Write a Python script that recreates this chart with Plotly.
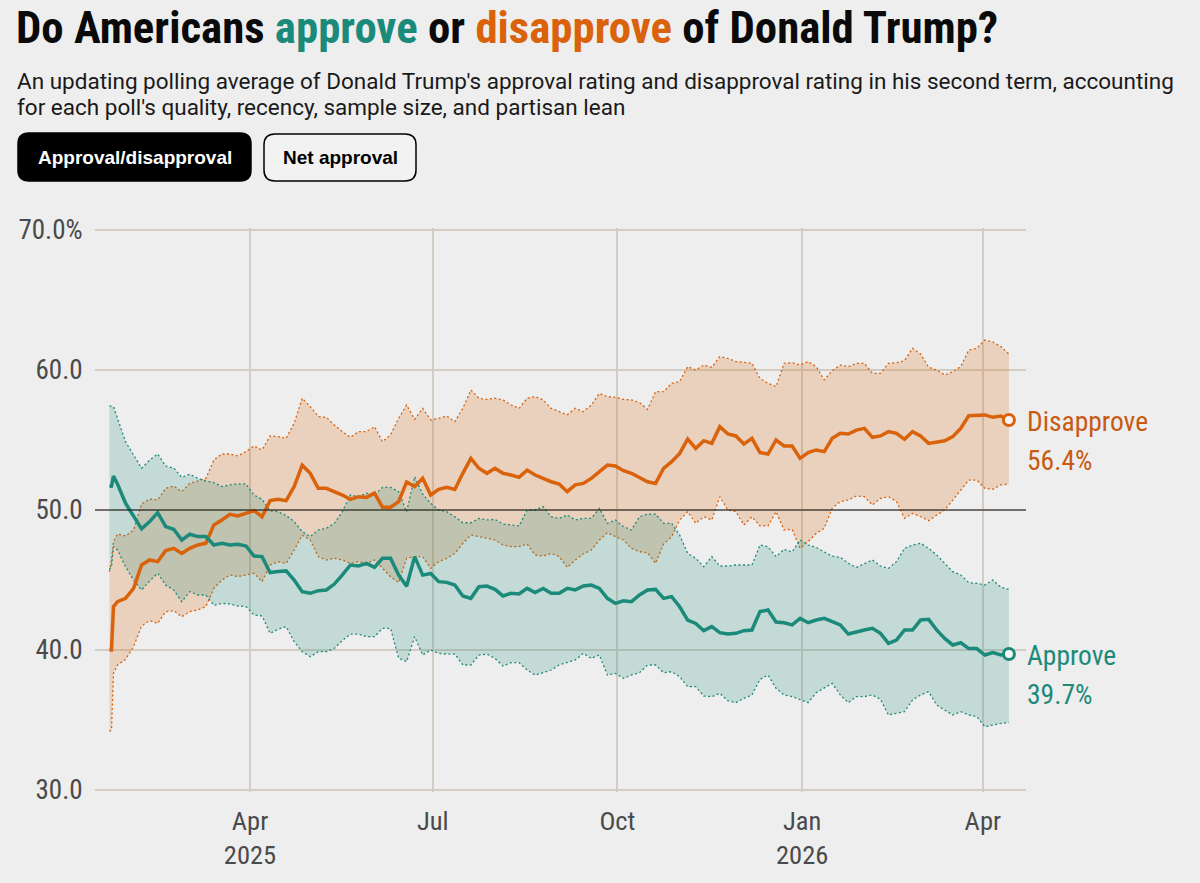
import pandas as pd
import plotly.graph_objects as go

BG = "#EEEEEE"
TEAL = "#1B8A7A"
ORANGE = "#D9620A"
GRID = "#D3CCC3"
AXIS_TEXT = "#4A4A4A"
NARROW = "Roboto Condensed"

# first days after the inauguration, then one reading every 4 days
dates = ["2025-01-21", "2025-01-22", "2025-01-23"] + list(pd.date_range("2025-01-25", "2026-04-14", freq="4D"))

approve = [
    51.67, 51.7, 52.43, 51.86, 50.48, 49.52, 48.65, 49.17, 49.81, 48.81, 48.62, 47.86, 48.27, 48.1,
    48.1, 47.5, 47.62, 47.5, 47.55, 47.43, 46.71, 46.67, 45.53, 45.6, 45.65, 45.0, 44.17, 44.05,
    44.24, 44.29, 44.71, 45.36, 46.07, 46.0, 46.19, 45.9, 46.55, 46.55, 45.36, 44.55, 46.67,
    45.35, 45.47, 44.88, 44.83, 44.64, 43.86, 43.69, 44.52, 44.57, 44.33, 43.86, 44.05, 44.0, 44.4,
    44.1, 44.4, 44.05, 44.05, 44.4, 44.29, 44.57, 44.64, 44.4, 43.69, 43.33, 43.52, 43.45, 43.93,
    44.29, 44.33, 43.69, 43.81, 43.09, 42.14, 41.9, 41.38, 41.67, 41.24, 41.14, 41.19, 41.38,
    41.43, 42.74, 42.86, 42.0, 41.95, 41.79, 42.26, 41.95, 42.14, 42.26, 42.0, 41.79, 41.14, 41.31,
    41.43, 41.55, 41.19, 40.48, 40.71, 41.43, 41.43, 42.14, 42.19, 41.43, 40.83, 40.36, 40.52, 40.1,
    40.1, 39.64, 39.81, 39.64, 39.71,
]
approve_hi = [
    57.43, 57.43, 57.38, 56.55, 54.88, 53.93, 52.98, 53.57, 54.0, 53.14, 53.0, 52.33, 52.55, 52.26,
    52.07, 51.95, 51.67, 51.79, 51.86, 51.86, 51.07, 50.76, 49.93, 49.88, 49.6, 49.17, 48.45, 48.1,
    48.57, 48.69, 49.05, 49.88, 51.07, 50.95, 51.2, 51.07, 51.62, 51.62, 51.31, 49.88, 52.38,
    51.14, 50.47, 50.0, 49.88, 49.52, 49.09, 49.09, 49.4, 49.29, 49.33, 49.0, 48.93, 48.86, 50.0,
    50.0, 50.24, 49.52, 49.4, 49.64, 49.29, 49.4, 49.4, 50.12, 49.05, 49.29, 48.81, 48.57, 49.52,
    49.71, 49.71, 49.05, 49.05, 48.21, 46.9, 46.55, 45.95, 46.67, 46.0, 46.0, 46.07, 46.07,
    46.07, 47.5, 47.38, 46.67, 47.19, 47.0, 47.86, 47.5, 47.33, 47.0, 46.71, 46.62, 46.19, 45.9,
    46.19, 46.43, 46.0, 45.83, 46.31, 47.26, 47.5, 47.62, 47.26, 46.79, 46.19, 45.6, 45.36, 44.81,
    44.76, 44.64, 45.0, 44.48, 44.33,
]
approve_lo = [
    45.76, 45.95, 47.38, 47.15, 45.95, 45.0, 44.29, 44.93, 45.48, 44.64, 44.29, 43.45, 44.17, 43.93,
    43.93, 43.2, 43.33, 43.29, 43.14, 43.1, 42.5, 42.43, 41.19, 41.48, 41.67, 40.6, 39.88, 39.52,
    39.88, 39.88, 40.12, 40.67, 41.14, 41.14, 40.95, 40.95, 41.55, 41.55, 39.43, 39.17, 40.95,
    39.64, 40.0, 39.76, 39.71, 39.71, 38.93, 38.93, 39.64, 39.71, 39.4, 38.86, 39.1, 39.1, 38.57,
    38.21, 38.38, 38.57, 38.93, 39.1, 39.29, 39.76, 39.4, 39.64, 38.21, 38.33, 37.98, 38.21, 38.38,
    38.93, 38.93, 38.38, 38.45, 38.09, 37.38, 37.38, 36.71, 36.67, 36.9, 36.38, 36.24, 36.55,
    36.79, 37.9, 38.21, 37.26, 36.79, 36.67, 36.48, 36.24, 36.95, 37.26, 37.62, 36.79, 36.24, 36.67,
    36.67, 36.79, 36.48, 35.36, 35.48, 35.6, 36.43, 36.79, 37.02, 36.07, 35.71, 35.36, 35.6, 35.36,
    35.24, 34.52, 34.64, 34.76, 34.81,
]
disapprove = [
    40.0, 40.0, 43.1, 43.45, 43.69, 44.4, 46.07, 46.43, 46.31, 47.1, 47.26, 46.9, 47.26, 47.5,
    47.62, 48.93, 49.29, 49.69, 49.57, 49.76, 49.95, 49.52, 50.67, 50.76, 50.67, 51.67, 53.2, 52.62,
    51.55, 51.55, 51.31, 51.07, 50.76, 50.95, 50.9, 51.2, 50.2, 50.2, 50.6, 52.0, 51.67,
    52.26, 51.07, 51.47, 51.62, 51.47, 52.62, 53.69, 52.98, 52.62, 52.98, 52.62, 52.5, 52.33, 52.85,
    52.5, 52.26, 52.02, 51.86, 51.31, 51.8, 51.9, 52.26, 52.74, 53.21, 53.14, 52.81, 52.62, 52.33,
    52.02, 51.9, 52.98, 53.45, 54.04, 55.07, 54.4, 54.95, 54.76, 55.95, 55.43, 55.29, 54.71,
    55.12, 54.1, 54.0, 55.0, 54.57, 54.57, 53.69, 54.1, 54.29, 54.17, 55.12, 55.48, 55.43, 55.71,
    55.83, 55.19, 55.29, 55.6, 55.48, 55.05, 55.6, 55.29, 54.76, 54.88, 54.95, 55.24, 55.83, 56.74,
    56.74, 56.79, 56.62, 56.71, 56.43,
]
disapprove_hi = [
    45.6, 46.43, 47.74, 48.29, 48.14, 48.57, 50.43, 50.79, 50.71, 51.55, 51.71, 51.31, 51.9, 52.07,
    52.26, 53.57, 54.0, 54.0, 53.86, 54.17, 54.57, 54.29, 55.29, 55.24, 55.12, 56.19, 57.98, 57.38,
    56.67, 56.62, 56.07, 55.6, 55.19, 55.6, 55.6, 55.95, 54.88, 55.36, 56.55, 57.5, 56.48,
    57.26, 56.43, 56.55, 56.71, 56.31, 57.26, 58.57, 57.98, 57.9, 57.98, 57.86, 57.5, 57.26, 57.98,
    58.1, 57.86, 57.26, 57.02, 56.8, 57.26, 57.02, 57.5, 58.33, 58.1, 58.05, 57.9, 57.86, 57.67,
    57.19, 58.45, 58.45, 59.05, 59.17, 60.24, 60.0, 60.35, 60.19, 60.95, 60.83, 60.6, 60.52,
    60.48, 59.4, 59.05, 58.81, 60.48, 60.52, 60.36, 60.6, 60.24, 59.29, 59.95, 60.36, 60.24, 60.48,
    60.48, 59.76, 59.76, 60.48, 60.52, 60.67, 61.55, 61.14, 60.19, 60.0, 59.64, 59.88, 60.24, 61.43,
    61.55, 62.14, 62.0, 61.67, 61.14,
]
disapprove_lo = [
    34.17, 34.29, 38.33, 38.93, 39.33, 40.24, 41.71, 42.1, 41.9, 42.74, 42.81, 42.38, 42.74, 42.86,
    43.1, 44.4, 45.0, 45.36, 45.24, 45.36, 45.48, 44.88, 46.07, 46.31, 46.19, 47.14, 48.2, 47.86,
    46.67, 46.43, 46.55, 46.43, 46.19, 46.31, 46.19, 46.43, 45.83, 45.24, 44.81, 46.55, 46.67,
    46.67, 45.83, 46.31, 46.55, 46.9, 47.62, 48.21, 48.1, 47.98, 47.86, 47.5, 47.38, 47.38, 47.57,
    46.79, 46.71, 46.9, 46.67, 45.9, 46.43, 46.86, 47.14, 47.86, 48.38, 48.1, 47.86, 47.26, 47.02,
    46.95, 46.19, 47.57, 48.1, 49.29, 49.88, 49.05, 49.52, 49.29, 50.95, 50.0, 49.88, 48.93,
    49.52, 48.86, 48.86, 49.88, 48.57, 48.62, 47.26, 47.74, 48.33, 48.69, 50.13, 50.6, 50.71, 51.0,
    50.95, 50.36, 50.83, 50.95, 50.6, 49.41, 49.76, 49.52, 49.24, 49.64, 50.0, 50.71, 51.43, 52.14,
    52.14, 51.55, 51.48, 51.79, 51.86,
]
assert len(dates) == len(approve) == len(approve_hi) == len(approve_lo) == len(disapprove) == len(disapprove_hi) == len(disapprove_lo)

x_tickvals = ["2025-04-01", "2025-07-01", "2025-10-01", "2026-01-01", "2026-04-01"]
x_ticktext = ["Apr<br>2025", "Jul", "Oct", "Jan<br>2026", "Apr"]
y_tickvals = [30, 40, 50, 60, 70]
y_ticktext = ["30.0", "40.0", "50.0", "60.0", "70.0%"]

# plot area in page pixels, used for the text and buttons outside of it.
# 2px of slack at top and bottom, plotly drops gridlines that sit on the edge
L, R, T, B = 95, 1026, 228, 792
SLACK = 2 * 40 / 560


def px(x):
    return (x - L) / (R - L)


def py(y):
    return (B - y) / (B - T)


def button(x0, y0, x1, y1, r, fill, line):
    # rounded rectangle as an svg path in paper coords
    rx, ry = r / (R - L), r / (B - T)
    a, b, c, d = px(x0), px(x1), py(y1), py(y0)
    path = (f"M {a + rx} {c} L {b - rx} {c} Q {b} {c} {b} {c + ry} L {b} {d - ry} Q {b} {d} {b - rx} {d} "
            f"L {a + rx} {d} Q {a} {d} {a} {d - ry} L {a} {c + ry} Q {a} {c} {a + rx} {c} Z")
    return dict(type="path", xref="paper", yref="paper", path=path, fillcolor=fill,
                line=dict(color=line, width=1.5), layer="above")


def band(hi, lo, color, fill):
    fig.add_trace(go.Scatter(x=dates, y=hi, mode="lines", line=dict(color=color, width=1.3, dash="2px,2.5px"),
                             showlegend=False, hoverinfo="skip"))
    fig.add_trace(go.Scatter(x=dates, y=lo, mode="lines", line=dict(color=color, width=1.3, dash="2px,2.5px"),
                             fill="tonexty", fillcolor=fill, showlegend=False, hoverinfo="skip"))


fig = go.Figure()

band(disapprove_hi, disapprove_lo, ORANGE, "rgba(217,95,2,0.2)")
band(approve_hi, approve_lo, TEAL, "rgba(27,138,122,0.2)")

fig.add_trace(go.Scatter(x=dates, y=disapprove, name="Disapprove", mode="lines", line=dict(color=ORANGE, width=3.5), showlegend=False))
fig.add_trace(go.Scatter(x=dates, y=approve, name="Approve", mode="lines", line=dict(color=TEAL, width=3.5), showlegend=False))

# open circles on the latest values
fig.add_trace(go.Scatter(x=[dates[-1]], y=[disapprove[-1]], mode="markers", showlegend=False,
                         marker=dict(size=11, color="#F5F5F5", line=dict(color=ORANGE, width=3))))
fig.add_trace(go.Scatter(x=[dates[-1]], y=[approve[-1]], mode="markers", showlegend=False,
                         marker=dict(size=11, color="#F5F5F5", line=dict(color=TEAL, width=3))))

title = (f'<b>Do Americans <span style="color:{TEAL}">approve</span> or '
         f'<span style="color:{ORANGE}">disapprove</span> of Donald Trump?</b>')

annotations = [
    dict(x=px(15), y=py(81), text="An updating polling average of Donald Trump's approval rating and disapproval rating in his second term, accounting",
         xanchor="left", font=dict(family="Roboto", size=22.5, color="#1A1A1A")),
    dict(x=px(15), y=py(107), text="for each poll's quality, recency, sample size, and partisan lean",
         xanchor="left", font=dict(family="Roboto", size=22.5, color="#1A1A1A")),
    dict(x=px(134.5), y=py(157), text="<b>Approval/disapproval</b>", xanchor="center", font=dict(family="Liberation Sans", size=19, color="white")),
    dict(x=px(340), y=py(157), text="<b>Net approval</b>", xanchor="center", font=dict(family="Liberation Sans", size=19, color="black")),
    dict(x=px(1025), y=py(421), text="Disapprove", xanchor="left", font=dict(family=NARROW, size=27.5, color="#C85A12")),
    dict(x=px(1025), y=py(460), text=f"{disapprove[-1]:.1f}%", xanchor="left", font=dict(family=NARROW, size=27.5, color="#C85A12")),
    dict(x=px(1025), y=py(655), text="Approve", xanchor="left", font=dict(family=NARROW, size=27.5, color=TEAL)),
    dict(x=px(1025), y=py(694), text=f"{approve[-1]:.1f}%", xanchor="left", font=dict(family=NARROW, size=27.5, color=TEAL)),
]
for a in annotations:
    a.update(xref="paper", yref="paper", showarrow=False, yanchor="middle")

fig.update_layout(
    width=1200, height=883,
    paper_bgcolor=BG, plot_bgcolor=BG,
    margin=dict(l=L, r=1200 - R, t=T, b=883 - B),
    showlegend=False,
    title=dict(text=title, x=16 / 1200, xanchor="left", y=1 - 27 / 883, yanchor="middle",
               font=dict(family=NARROW, size=44.8, color="#0A0A0A")),
    annotations=annotations,
    shapes=[
        dict(type="line", xref="paper", yref="y", x0=0, x1=1, y0=50, y1=50, line=dict(color="#111111", width=1), layer="above"),
        button(18, 133, 251, 181, 11, "black", "black"),
        button(264, 134, 416, 181, 11, "#F2F2F2", "black"),
    ],
    xaxis=dict(range=["2025-01-13 19:00", "2026-04-22 12:00"], tickvals=x_tickvals, ticktext=x_ticktext,
               showgrid=True, gridcolor=GRID, gridwidth=1.5, zeroline=False, showline=False,
               ticks="outside", ticklen=5, tickcolor=BG,
               tickfont=dict(family=NARROW, size=26.5, color=AXIS_TEXT)),
    yaxis=dict(range=[30 - SLACK, 70 + SLACK], tickvals=y_tickvals, ticktext=y_ticktext,
               showgrid=True, gridcolor=GRID, gridwidth=2, zeroline=False, showline=False,
               ticks="outside", ticklen=6, tickcolor=BG,
               tickfont=dict(family=NARROW, size=27, color=AXIS_TEXT)),
)

fig.write_html("out.html", config={"displayModeBar": False}, post_script="document.body.style.margin = '0';")
